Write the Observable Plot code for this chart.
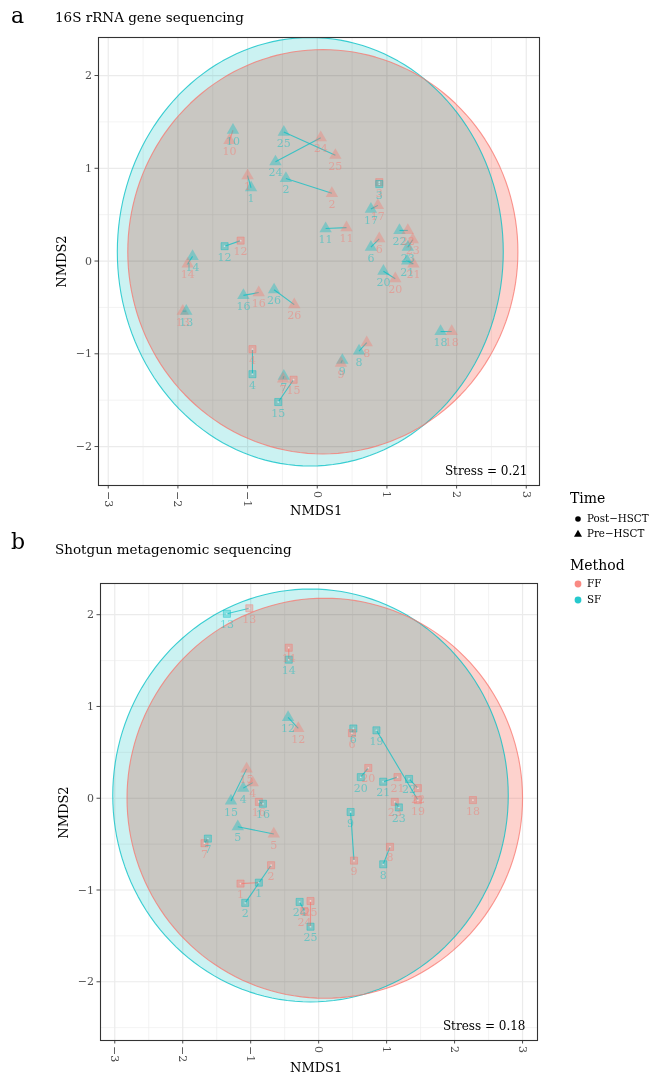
<!DOCTYPE html>
<html><head><meta charset="utf-8">
<script src="https://cdn.jsdelivr.net/npm/d3@7"></script>
<script src="https://cdn.jsdelivr.net/npm/@observablehq/plot@0.6"></script>
<style>
body{margin:0;background:#fff;font-family:"DejaVu Serif",serif;color:#000;}
#wrap{position:relative;width:654px;height:1076px;overflow:hidden;}
.abs{position:absolute;white-space:nowrap;line-height:1;}
svg text{font-family:"DejaVu Serif",serif;}
</style></head><body><div id="wrap"></div>
<script>
// ---------- data ----------
const xTicks = [-3, -2, -1, 0, 1, 2, 3];
const yTicks = [-2, -1, 0, 1, 2];
const methods = ["FF", "SF"];
const methodColors = ["#F8766D", "#00BFC4"];
const timeLevels = ["Post\u2212HSCT", "Pre\u2212HSCT"];

// Panel a: 16S rRNA
const aSubject = [10,10,1,1,25,25,24,24,2,2,3,3,17,17,11,11,6,6,22,22,23,23,21,21,20,20,12,12,14,14,16,16,26,26,13,13,4,4,7,7,15,15,9,9,8,8,18,18];
const aMethod  = ["SF","FF","FF","SF","SF","FF","SF","FF","SF","FF","FF","SF","FF","SF","SF","FF","FF","SF","SF","FF","FF","SF","SF","FF","SF","FF","SF","FF","SF","FF","SF","FF","SF","FF","FF","SF","FF","SF","SF","FF","FF","SF","SF","FF","SF","FF","SF","FF"];
const aTime    = ["Pre","Pre","Pre","Pre","Pre","Pre","Pre","Pre","Pre","Pre","Post","Post","Pre","Pre","Pre","Pre","Pre","Pre","Pre","Pre","Pre","Pre","Pre","Pre","Pre","Pre","Post","Post","Pre","Pre","Pre","Pre","Pre","Pre","Pre","Pre","Post","Post","Pre","Pre","Post","Post","Pre","Pre","Pre","Pre","Pre","Pre"];
const aX = [-1.21,-1.26,-1.00,-0.95,-0.48,0.26,-0.60,0.05,-0.45,0.21,0.89,0.89,0.87,0.77,0.12,0.42,0.89,0.77,1.18,1.30,1.37,1.30,1.29,1.38,0.95,1.12,-1.33,-1.10,-1.79,-1.86,-1.06,-0.84,-0.62,-0.33,-1.93,-1.88,-0.93,-0.93,-0.48,-0.49,-0.34,-0.56,0.36,0.34,0.60,0.71,1.77,1.93];
const aY = [1.41,1.30,0.92,0.79,1.39,1.14,1.07,1.33,0.89,0.73,0.85,0.83,0.60,0.56,0.35,0.36,0.24,0.15,0.33,0.33,0.23,0.15,0.00,-0.03,-0.11,-0.19,0.16,0.22,0.05,-0.03,-0.37,-0.34,-0.31,-0.47,-0.54,-0.54,-0.95,-1.22,-1.24,-1.27,-1.28,-1.52,-1.07,-1.10,-0.97,-0.88,-0.76,-0.76];
const aPinkLinks = [10];
// ellipse fits [cx, cy, rx, ry] for FF, SF
const aEllipseFF = [0.08, 0.10, 2.80, 2.18];
const aEllipseSF = [-0.10, 0.10, 2.77, 2.31];
const aStress = "Stress = 0.21";

// Panel b: shotgun metagenomic
const bSubject = [13,13,14,14,12,12,15,15,4,4,16,16,5,5,7,7,2,2,1,1,24,24,25,25,6,6,19,19,22,22,20,20,21,21,23,23,18,9,9,8,8];
const bMethod  = ["SF","FF","FF","SF","SF","FF","FF","SF","SF","FF","FF","SF","SF","FF","FF","SF","FF","SF","SF","FF","SF","FF","FF","SF","SF","FF","SF","FF","SF","FF","FF","SF","SF","FF","FF","SF","FF","SF","FF","FF","SF"];
const bTime    = ["Post","Post","Post","Post","Pre","Pre","Pre","Pre","Pre","Pre","Post","Post","Pre","Pre","Post","Post","Post","Post","Post","Post","Post","Post","Post","Post","Post","Post","Post","Post","Post","Post","Post","Post","Post","Post","Post","Post","Post","Post","Post","Post","Post"];
const bX = [-1.35,-1.02,-0.44,-0.44,-0.45,-0.30,-1.06,-1.29,-1.11,-0.97,-0.88,-0.82,-1.19,-0.66,-1.68,-1.63,-0.70,-1.08,-0.88,-1.15,-0.28,-0.21,-0.12,-0.12,0.51,0.49,0.85,1.46,1.33,1.46,0.73,0.62,0.95,1.16,1.12,1.18,2.27,0.47,0.52,1.05,0.95];
const bY = [2.01,2.07,1.64,1.51,0.88,0.76,0.32,-0.03,0.11,0.17,-0.04,-0.06,-0.31,-0.39,-0.49,-0.44,-0.73,-1.14,-0.92,-0.93,-1.13,-1.23,-1.12,-1.40,0.76,0.71,0.74,-0.02,0.21,0.11,0.33,0.23,0.18,0.23,-0.04,-0.10,-0.02,-0.15,-0.68,-0.53,-0.72];
const bPinkLinks = [1, 14, 25];
const bEllipseFF = [0.09, 0.00, 2.91, 2.18];
const bEllipseSF = [-0.12, 0.03, 2.91, 2.25];
const bStress = "Stress = 0.18";

// ---------- helpers ----------
const colorOf = m => methodColors[methods.indexOf(m)];
function rows(S, M, T, X, Y) {
  return S.map((s, i) => ({subject: s, method: M[i], time: T[i], x: X[i], y: Y[i]}));
}
function ellipse(p, n = 160) {
  const [cx, cy, rx, ry] = p;
  return d3.range(n).map(i => {
    const t = (i / n) * 2 * Math.PI;
    return {x: cx + rx * Math.cos(t), y: cy + ry * Math.sin(t)};
  });
}
function links(data, pink) {
  const out = [];
  const g = d3.group(data, d => d.subject);
  for (const [s, arr] of g) {
    const ff = arr.find(d => d.method === "FF"), sf = arr.find(d => d.method === "SF");
    if (ff && sf) out.push({x1: sf.x, y1: sf.y, x2: ff.x, y2: ff.y, c: pink.includes(s) ? methodColors[0] : methodColors[1]});
  }
  return out;
}
const minor = (t) => d3.range(t.length - 1).map(i => (t[i] + t[i + 1]) / 2);
const fmt = d => d < 0 ? "\u2212" + Math.abs(d) : String(d);

function panel(data, pink, eFF, eSF, opts) {
  const {xDomain, yDomain, width, height, mt, mb, ml, mr, stress} = opts;
  const grey = "#EBEBEB";
  const xMinor = minor(xTicks).concat([xTicks[0] - 0.5, xTicks[xTicks.length-1] + 0.5]).filter(v => v > xDomain[0] && v < xDomain[1]);
  const yMinor = minor(yTicks).concat([yTicks[0] - 0.5, yTicks[yTicks.length-1] + 0.5]).filter(v => v > yDomain[0] && v < yDomain[1]);
  const post = data.filter(d => d.time === "Post");
  const pre = data.filter(d => d.time === "Pre");
  return Plot.plot({
    width, height, marginTop: mt, marginBottom: mb, marginLeft: ml, marginRight: mr,
    style: {background: "transparent", fontFamily: "DejaVu Serif, serif", fontSize: "11px", color: "#4D4D4D", overflow: "visible"},
    x: {domain: xDomain, ticks: xTicks, tickSize: 3.5, tickPadding: 2, tickRotate: 90, label: null, tickFormat: fmt},
    y: {domain: yDomain, ticks: yTicks, tickSize: 3.5, tickPadding: 3, label: null, tickFormat: fmt},
    marks: [
      Plot.ruleX(xMinor, {stroke: grey, strokeWidth: 0.6}),
      Plot.ruleY(yMinor, {stroke: grey, strokeWidth: 0.6}),
      Plot.ruleX(xTicks, {stroke: grey, strokeWidth: 1.2}),
      Plot.ruleY(yTicks, {stroke: grey, strokeWidth: 1.2}),
      Plot.line(ellipse(eSF), {x: "x", y: "y", curve: "linear-closed", fill: "#CBF2F2", stroke: "none", mixBlendMode: "multiply"}),
      Plot.line(ellipse(eFF), {x: "x", y: "y", curve: "linear-closed", fill: "#FDD2CD", stroke: "none", mixBlendMode: "multiply"}),
      Plot.line(ellipse(eSF), {x: "x", y: "y", curve: "linear-closed", stroke: methodColors[1], strokeWidth: 1.1, strokeOpacity: 0.75}),
      Plot.line(ellipse(eFF), {x: "x", y: "y", curve: "linear-closed", stroke: methodColors[0], strokeWidth: 1.1, strokeOpacity: 0.75}),
      Plot.link(links(data, pink), {x1: "x1", y1: "y1", x2: "x2", y2: "y2", stroke: d => d.c, strokeWidth: 1.1, strokeOpacity: 0.7}),
      Plot.dot(pre, {x: "x", y: "y", symbol: "triangle", r: 4.6, fill: d => colorOf(d.method), fillOpacity: 0.36, stroke: "none"}),
      Plot.dot(post, {x: "x", y: "y", symbol: "square", r: 4, fill: d => colorOf(d.method), fillOpacity: 0.35, stroke: d => colorOf(d.method), strokeOpacity: 0.5, strokeWidth: 0.8}),
      Plot.dot(post, {x: "x", y: "y", r: 0.9, fill: "#ffffff", fillOpacity: 0.55}),
      Plot.text(data, {x: "x", y: "y", text: "subject", dy: 11, fill: d => colorOf(d.method), fillOpacity: 0.45, fontSize: 11}),
      Plot.text([stress], {frameAnchor: "bottom-right", dx: -12, dy: -11, text: d => d, fontSize: 12, fill: "#000"}),
      Plot.frame({stroke: "#333333", strokeWidth: 1.1})
    ]
  });
}

// ---------- layout ----------
const wrap = document.getElementById("wrap");
function place(el, left, top) { el.style.position = "absolute"; el.style.left = left + "px"; el.style.top = top + "px"; wrap.appendChild(el); return el; }
function label(txt, left, top, css) { const d = document.createElement("div"); d.className = "abs"; d.textContent = txt; d.style.cssText += css || ""; return place(d, left, top); }

const dataA = rows(aSubject, aMethod, aTime, aX, aY);
const dataB = rows(bSubject, bMethod, bTime, bX, bY);

const pa = panel(dataA, aPinkLinks, aEllipseFF, aEllipseSF, {xDomain: [-3.14, 3.19], yDomain: [-2.42, 2.41], width: 560, height: 505, mt: 37, mb: 20, ml: 98, mr: 21, stress: aStress});
place(pa, 0, 0);
const pb = panel(dataB, bPinkLinks, bEllipseFF, bEllipseSF, {xDomain: [-3.21, 3.22], yDomain: [-2.64, 2.34], width: 560, height: 500, mt: 23, mb: 20, ml: 100, mr: 23, stress: bStress});
place(pb, 0, 560);

// titles
label("a", 11, 5, "font-size:22px;");
label("16S rRNA gene sequencing", 55, 11, "font-size:13.5px;");
label("b", 11, 531, "font-size:22px;");
label("Shotgun metagenomic sequencing", 55, 543, "font-size:13.5px;");
// axis titles
label("NMDS1", 290, 504, "font-size:13px;");
label("NMDS1", 290, 1061, "font-size:13px;");
label("NMDS2", 35, 255, "font-size:13px;transform:rotate(-90deg);transform-origin:center;");
label("NMDS2", 37, 806, "font-size:13px;transform:rotate(-90deg);transform-origin:center;");

// legend
const svgNS = "http://www.w3.org/2000/svg";
function legendSvg() {
  const s = document.createElementNS(svgNS, "svg");
  s.setAttribute("width", 20); s.setAttribute("height", 110);
  const c = document.createElementNS(svgNS, "circle");
  c.setAttribute("cx", 8); c.setAttribute("cy", 8); c.setAttribute("r", 2.8); c.setAttribute("fill", "#000");
  const t = document.createElementNS(svgNS, "path");
  t.setAttribute("d", d3.symbol(d3.symbolTriangle, 28)()); t.setAttribute("transform", "translate(8,23.5)"); t.setAttribute("fill", "#000");
  const f = document.createElementNS(svgNS, "circle");
  f.setAttribute("cx", 8); f.setAttribute("cy", 73); f.setAttribute("r", 3.4); f.setAttribute("fill", methodColors[0]); f.setAttribute("fill-opacity", 0.85);
  const g = document.createElementNS(svgNS, "circle");
  g.setAttribute("cx", 8); g.setAttribute("cy", 89); g.setAttribute("r", 3.4); g.setAttribute("fill", methodColors[1]); g.setAttribute("fill-opacity", 0.85);
  s.append(c, t, f, g);
  return s;
}
place(legendSvg(), 570, 511);
label("Time", 570, 491, "font-size:14px;");
label(timeLevels[0], 587, 513, "font-size:10.3px;");
label(timeLevels[1], 587, 528, "font-size:10.3px;");
label("Method", 570, 558, "font-size:14px;");
label(methods[0], 587, 578, "font-size:10.3px;");
label(methods[1], 587, 594, "font-size:10.3px;");
</script></body></html>
